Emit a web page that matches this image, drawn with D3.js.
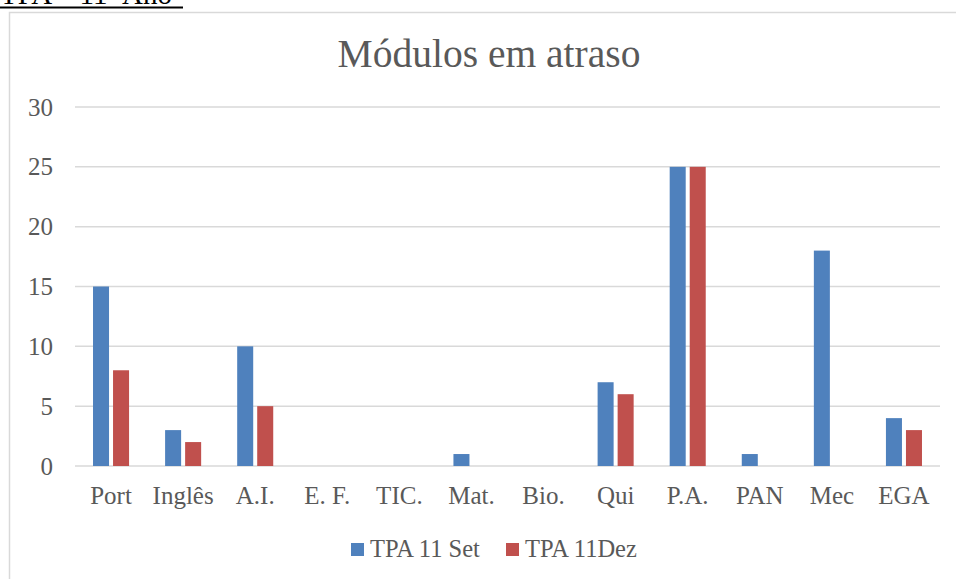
<!DOCTYPE html>
<html>
<head>
<meta charset="utf-8">
<script src="https://cdn.jsdelivr.net/npm/d3@7"></script>
<style>
  body { margin: 0; background: #fff; }
  svg { display: block; }
  text { font-family: "Liberation Serif", "Times New Roman", serif; }
</style>
</head>
<body>
<div id="wrapper"></div>
<script>
const categories = ["Port", "Inglês", "A.I.", "E. F.", "TIC.", "Mat.", "Bio.", "Qui", "P.A.", "PAN", "Mec", "EGA"]
const seriesNames = ["TPA 11 Set", "TPA 11Dez"]
const setValues = [15, 3, 10, 0, 0, 1, 0, 7, 25, 1, 18, 4]
const dezValues = [8, 2, 5, 0, 0, 0, 0, 6, 25, 0, 0, 3]
const yTicks = [0, 5, 10, 15, 20, 25, 30]
const colors = ["#4f81bd", "#c0504d"]

const dataset = categories.map((c, i) => ({
  category: c,
  values: [setValues[i], dezValues[i]]
}))

// dimensions
let dimensions = {
  width: 956,
  height: 579,
  margin: { top: 107, right: 16, bottom: 113, left: 75 },
}
dimensions.boundedWidth = dimensions.width - dimensions.margin.left - dimensions.margin.right
dimensions.boundedHeight = dimensions.height - dimensions.margin.top - dimensions.margin.bottom

const svg = d3.select("#wrapper")
  .append("svg")
  .attr("width", dimensions.width)
  .attr("height", dimensions.height)

// document header, cut off at the top as in the original page
svg.append("text")
  .attr("x", 0)
  .attr("y", 4)
  .attr("font-size", 29)
  .attr("fill", "#000")
  .text("TPA – 11º Ano")
svg.append("rect")
  .attr("x", 0).attr("y", 6.5)
  .attr("width", 183).attr("height", 2)
  .attr("fill", "#000")

// chart frame
svg.append("path")
  .attr("d", `M9.5,${dimensions.height} V12.5 H${dimensions.width}`)
  .attr("fill", "none")
  .attr("stroke", "#d9d9d9")
  .attr("stroke-width", 1.5)

// title
svg.append("text")
  .attr("x", 489)
  .attr("y", 67)
  .attr("text-anchor", "middle")
  .attr("font-size", 39.5)
  .attr("fill", "#595959")
  .text("Módulos em atraso")

const bounds = svg.append("g")
  .attr("transform", `translate(${dimensions.margin.left},${dimensions.margin.top})`)

// scales
const xScale = d3.scaleBand()
  .domain(categories)
  .range([0, dimensions.boundedWidth])
  .paddingInner(0.5)
  .paddingOuter(0.25)

const x1Scale = d3.scaleBand()
  .domain([0, 1])
  .range([0, xScale.bandwidth()])
  .paddingInner(0.2)

const yScale = d3.scaleLinear()
  .domain([0, 30])
  .range([dimensions.boundedHeight, 0])

// gridlines
bounds.append("g")
  .selectAll("line")
  .data(yTicks)
  .join("line")
  .attr("x1", 0)
  .attr("x2", dimensions.boundedWidth)
  .attr("y1", d => yScale(d))
  .attr("y2", d => yScale(d))
  .attr("stroke", "#d9d9d9")
  .attr("stroke-width", 1.5)

// bars
const groups = bounds.append("g")
  .selectAll("g")
  .data(dataset)
  .join("g")
  .attr("transform", d => `translate(${xScale(d.category)},0)`)

groups.selectAll("rect")
  .data(d => d.values.map((v, i) => ({ v, i })))
  .join("rect")
  .filter(d => d.v > 0)
  .attr("x", d => x1Scale(d.i))
  .attr("width", x1Scale.bandwidth())
  .attr("y", d => yScale(d.v))
  .attr("height", d => yScale(0) - yScale(d.v))
  .attr("fill", d => colors[d.i])

// y axis
const yAxis = bounds.append("g")
  .call(d3.axisLeft(yScale).tickValues(yTicks).tickSize(0).tickPadding(22))
yAxis.select(".domain").remove()
yAxis.selectAll("text")
  .attr("font-family", "Liberation Serif, serif")
  .attr("font-size", 25)
  .attr("fill", "#595959")

// x axis
const xAxis = bounds.append("g")
  .attr("transform", `translate(0,${dimensions.boundedHeight})`)
  .call(d3.axisBottom(xScale).tickSize(0).tickPadding(20))
xAxis.select(".domain").remove()
xAxis.selectAll("text")
  .attr("font-family", "Liberation Serif, serif")
  .attr("font-size", 25)
  .attr("fill", "#595959")

// legend
const legendItems = [
  { name: seriesNames[0], x: 351 },
  { name: seriesNames[1], x: 506 },
]
const legend = svg.append("g")
  .selectAll("g")
  .data(legendItems)
  .join("g")
  .attr("transform", d => `translate(${d.x},543)`)
legend.append("rect")
  .attr("width", 13)
  .attr("height", 13)
  .attr("fill", (d, i) => colors[i])
legend.append("text")
  .attr("x", 19)
  .attr("y", 14)
  .attr("font-size", 24.5)
  .attr("fill", "#595959")
  .text(d => d.name)
</script>
</body>
</html>
